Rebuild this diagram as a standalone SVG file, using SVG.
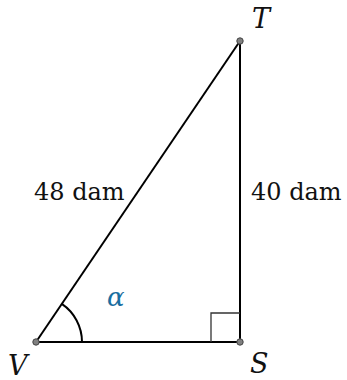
<svg xmlns="http://www.w3.org/2000/svg" width="347" height="380" viewBox="0 0 347 380">
  <style>
    .edge { stroke: #000; stroke-width: 2; fill: none; }
    .thin { stroke: #333; stroke-width: 1.3; fill: none; }
    .pt { fill: #808080; stroke: #444; stroke-width: 1; }
    .lbl { font-family: 'DejaVu Serif', serif; font-size: 24px; fill: #111; }
    .var { font-family: 'DejaVu Serif', serif; font-style: italic; font-size: 27px; fill: #111; }
    .ang { font-family: 'DejaVu Serif', serif; font-style: italic; font-size: 26px; fill: #1a6ea0; }
  </style>
  <rect width="347" height="380" fill="#fff"/>
  <g id="connectors">
    <line class="edge" x1="36" y1="342" x2="240" y2="41"/>
    <line class="edge" x1="36" y1="342" x2="240" y2="342"/>
    <line class="edge" x1="240" y1="342" x2="240" y2="41"/>
    <path class="thin" d="M211,342 V313 H240"/>
    <path class="edge" d="M82,342 A46,46 0 0 0 61.8,303.9"/>
  </g>
  <g id="V">
    <circle class="pt" cx="36" cy="342" r="3.2"/>
    <text class="var" x="8" y="375">V</text>
  </g>
  <g id="S">
    <circle class="pt" cx="240" cy="342" r="3.2"/>
    <text class="var" x="250" y="373">S</text>
  </g>
  <g id="T">
    <circle class="pt" cx="240" cy="41" r="3.2"/>
    <text class="var" x="252" y="28">T</text>
  </g>
  <g id="labels">
    <text class="lbl" x="34" y="200">48 dam</text>
    <text class="lbl" x="251" y="200">40 dam</text>
    <text class="ang" x="107" y="306">α</text>
  </g>
</svg>
